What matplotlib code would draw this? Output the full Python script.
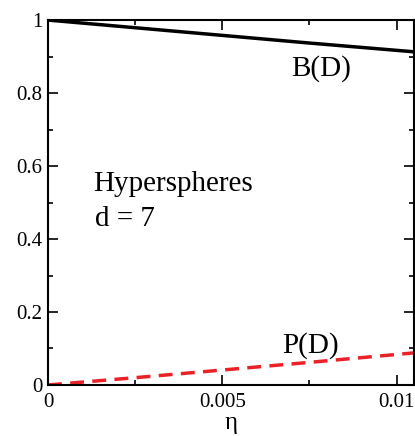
import matplotlib
matplotlib.use("Agg")
import matplotlib.pyplot as plt
import matplotlib.ticker as mticker

eta = [0.0, 0.0025, 0.005, 0.0075, 0.0105]
b_d = [1.0, 0.979, 0.958, 0.937, 0.913]
p_d = [0.0, 0.020, 0.041, 0.062, 0.088]

plt.rcParams["font.family"] = ["Liberation Serif", "DejaVu Serif"]

fig = plt.figure(figsize=(4.15, 4.36), dpi=100)
ax = fig.add_axes([0.1157, 0.117, 0.8819, 0.837])

ax.plot(eta, b_d, color="black", lw=2.5)
ax.plot(eta, p_d, color="#ea2228", lw=2.5, dashes=(4, 2.4))

ax.set_xlim(0, 0.0105)
ax.set_ylim(0, 1)
ax.xaxis.set_major_locator(mticker.FixedLocator([0, 0.005, 0.01]))
ax.xaxis.set_major_formatter(mticker.FixedFormatter(["0", "0.005", "0.01"]))
ax.xaxis.set_minor_locator(mticker.MultipleLocator(0.0025))
ax.yaxis.set_major_locator(mticker.MultipleLocator(0.2))
ax.yaxis.set_major_formatter(mticker.FuncFormatter(lambda v, p: "%g" % round(v, 1)))
ax.yaxis.set_minor_locator(mticker.MultipleLocator(0.1))
ax.tick_params(which="both", direction="in", top=True, right=True, labelsize=15, width=1.2)
ax.tick_params(which="major", length=7)
ax.tick_params(which="minor", length=3.6)
ax.tick_params(axis="x", pad=6)
ax.tick_params(axis="y", pad=4)
for s in ax.spines.values():
    s.set_linewidth(1.5)

ax.set_xlabel("η", fontsize=18, labelpad=0)

ax.text(0.00129, 0.5315, "Hyperspheres", fontsize=21, va="baseline")
ax.text(0.00135, 0.4356, "d = 7", fontsize=21, va="baseline")
ax.text(0.00697, 0.8466, "B(D)", fontsize=21, va="baseline")
ax.text(0.00671, 0.0877, "P(D)", fontsize=21, va="baseline")

fig.savefig("out.png", dpi=100)
